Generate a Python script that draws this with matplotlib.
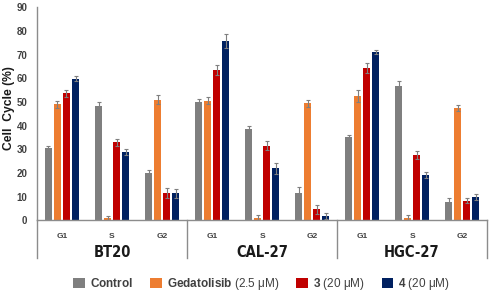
import numpy as np
import matplotlib.pyplot as plt

# data
cell_lines = ["BT20", "CAL-27", "HGC-27"]
phases = ["G1", "S", "G2"]
series = ["Control", "Gedatolisib", "3", "4"]

control = [30.6, 48.5, 20.1, 49.9, 38.4, 11.7, 35.1, 56.8, 7.9]
gedatolisib = [49.1, 1.0, 51.0, 50.5, 1.0, 49.4, 52.6, 1.0, 47.4]
cmpd3 = [53.6, 32.9, 11.5, 63.5, 31.5, 4.6, 64.3, 27.6, 8.3]
cmpd4 = [59.9, 28.9, 11.4, 75.9, 21.9, 1.8, 71.1, 19.1, 9.7]

control_err = [1.0, 1.5, 1.2, 1.5, 1.5, 2.2, 1.0, 2.0, 1.5]
gedatolisib_err = [1.5, 1.0, 2.0, 1.5, 1.2, 1.5, 2.5, 1.2, 1.2]
cmpd3_err = [1.5, 1.5, 2.0, 2.0, 1.8, 1.8, 2.0, 1.8, 1.2]
cmpd4_err = [1.0, 1.2, 1.8, 3.0, 2.2, 1.2, 1.0, 1.2, 1.2]

colors = ["#7f7f7f", "#ed7d31", "#c00000", "#002060"]
labels = ["$\\mathbf{Control}$",
          "$\\mathbf{Gedatolisib}$ (2.5 \u03bcM)",
          "$\\mathbf{3}$ (20 \u03bcM)",
          "$\\mathbf{4}$ (20 \u03bcM)"]

plt.rcParams['font.family'] = ['Liberation Sans', 'DejaVu Sans']
plt.rcParams['mathtext.fontset'] = 'custom'
plt.rcParams['mathtext.bf'] = 'Liberation Sans:bold'
plt.rcParams['mathtext.rm'] = 'Liberation Sans'

text_col = "#404040"
axis_col = "#8c8c8c"

fig = plt.figure(figsize=(4.9, 2.94), dpi=100)
ax = fig.add_axes((0.0755, 0.2507, 0.9185, 0.7245))

x = np.arange(len(control))
pitch = 0.18
width = 0.14
all_vals = [control, gedatolisib, cmpd3, cmpd4]
all_errs = [control_err, gedatolisib_err, cmpd3_err, cmpd4_err]
handles = []
for i, (vals, errs) in enumerate(zip(all_vals, all_errs)):
    h = ax.bar(x + (i - 1.5) * pitch, vals, width, color=colors[i],
               yerr=errs, error_kw=dict(ecolor="#7f7f7f", elinewidth=0.8,
                                        capsize=1.5, capthick=0.8))
    handles.append(h)

ax.set_xlim(-0.5, 8.5)
ax.set_ylim(0, 90)
ax.set_yticks(range(0, 91, 10))
ax.tick_params(axis='y', length=0, pad=7, labelsize=7, labelcolor=text_col)
for t in ax.get_yticklabels():
    t.set_fontweight('bold')
ax.set_xticks(x)
ax.set_xticklabels(phases * 3, fontsize=6, fontweight='bold', color=text_col)
ax.tick_params(axis='x', length=0, pad=9)

for s in ['top', 'right']:
    ax.spines[s].set_visible(False)
ax.spines['left'].set_color(axis_col)
ax.spines['bottom'].set_color(axis_col)
ax.spines['left'].set_linewidth(1.0)
ax.spines['bottom'].set_linewidth(1.0)

# group separators below the axis
trans = ax.get_xaxis_transform()
for xs in [-0.5, 2.5, 5.5, 8.5]:
    ax.plot([xs, xs], [0, -0.177], transform=trans, color=axis_col,
            lw=1.0, clip_on=False)
for j, name in enumerate(cell_lines):
    ax.text(3 * j + 1, -0.15, name, transform=trans, ha='center', va='center',
            fontsize=10.5, fontweight='bold', fontstretch='condensed',
            color="#1a1a1a", family='DejaVu Sans')

ax.set_ylabel("Cell  Cycle (%)", fontsize=8.7, fontweight='bold',
              color="#1a1a1a")
ax.yaxis.set_label_coords(-0.049, 0.527)

fig.legend(handles, labels, loc='center', bbox_to_anchor=(0.534, 0.034),
           ncol=4, frameon=False, fontsize=8.5, handlelength=1.0,
           handleheight=1.0, handletextpad=0.4, columnspacing=1.45,
           labelcolor=text_col)

fig.savefig("out.png", dpi=100)
